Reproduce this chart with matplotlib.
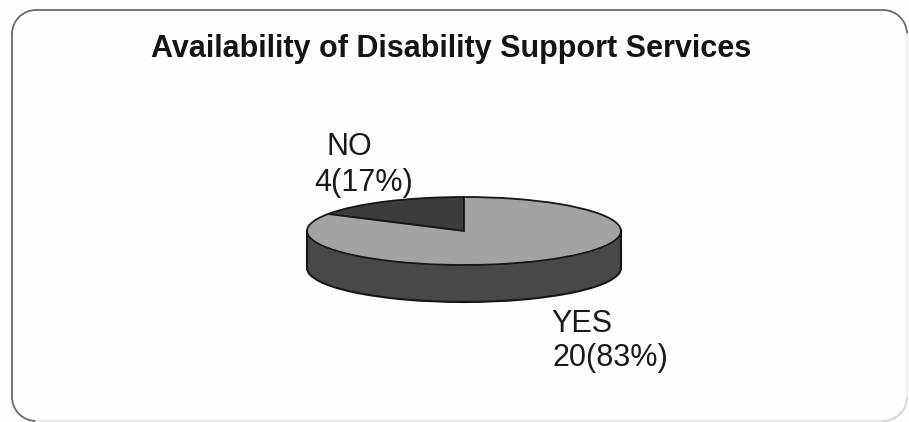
import matplotlib
matplotlib.use("Agg")
import matplotlib.pyplot as plt
from matplotlib.patches import Arc, Rectangle

plt.rcParams['font.family'] = ['Liberation Sans', 'DejaVu Sans']

labels = ["NO", "YES"]
counts = [4, 20]
percents = [17, 83]
title = "Availability of Disability Support Services"

W, H = 909, 422
CX, CY = 464, 231
RX, RY = 157, 34
DEPTH = 37 / RY

TOP_COLORS = ['#3c3c3c', '#a3a3a3']
SIDE_COLOR = '#484848'
EDGE = '#161616'
FRAME = '#6a6a6a'
TEXT = '#1a1a1a'

fig = plt.figure(figsize=(W / 100, H / 100), dpi=100, facecolor='#fefefe')

# frame with rounded corners, in pixel coordinates; it fades along right and bottom
bg = fig.add_axes([0, 0, 1, 1])
bg.set_xlim(0, W)
bg.set_ylim(H, 0)
bg.axis('off')
L, T, R, B, RAD = 12, 10, 907, 421, 24
bg.plot([L + RAD, R - RAD], [T, T], color=FRAME, lw=1.3)
bg.plot([L, L], [T + RAD, B - RAD], color=FRAME, lw=1.3)
bg.plot([L + RAD, R - RAD], [B, B], color='#e4e4e4', lw=1.2)
bg.plot([R, R], [T + RAD, B - RAD], color='#ececec', lw=1.2)
bg.add_patch(Arc((L + RAD, T + RAD), 2 * RAD, 2 * RAD, theta1=180, theta2=270, color=FRAME, lw=1.3))
bg.add_patch(Arc((R - RAD, T + RAD), 2 * RAD, 2 * RAD, theta1=270, theta2=360, color=FRAME, lw=1.3))
bg.add_patch(Arc((L + RAD, B - RAD), 2 * RAD, 2 * RAD, theta1=90, theta2=180, color=FRAME, lw=1.3))
bg.add_patch(Arc((R - RAD, B - RAD), 2 * RAD, 2 * RAD, theta1=0, theta2=90, color='#d0d0d0', lw=1.2))

# unit circle squashed into an ellipse by unequal axis scales
ax = fig.add_axes([0, 0, 1, 1])
ax.patch.set_alpha(0)

# side of the disc: lower pie plus a band joining it to the top face
ax.pie([sum(counts)], radius=1, center=(0, -DEPTH), colors=[SIDE_COLOR],
       wedgeprops=dict(edgecolor=EDGE, linewidth=1.5))
ax.add_patch(Rectangle((-1, -DEPTH), 2, DEPTH, fc=SIDE_COLOR, ec='none'))
ax.plot([-1, -1], [-DEPTH, 0], color=EDGE, lw=1.5)
ax.plot([1, 1], [-DEPTH, 0], color=EDGE, lw=1.5)

# top face
ax.pie(counts, radius=1, startangle=90, colors=TOP_COLORS,
       wedgeprops=dict(edgecolor=EDGE, linewidth=1.3))

ax.set_aspect('auto')
ax.set_xlim(-CX / RX, (W - CX) / RX)
ax.set_ylim(-(H - CY) / RY, CY / RY)
ax.axis('off')

bg.text(451, 49, title, ha='center', va='center', fontsize=22, fontweight='bold', color='#141414')
bg.text(349, 147, labels[0], ha='center', va='center', fontsize=22, color=TEXT)
bg.text(364, 183, f"{counts[0]}({percents[0]}%)", ha='center', va='center', fontsize=22, color=TEXT)
bg.text(582, 324, labels[1], ha='center', va='center', fontsize=22, color=TEXT)
bg.text(610, 358, f"{counts[1]}({percents[1]}%)", ha='center', va='center', fontsize=22, color=TEXT)

fig.savefig("out.png", dpi=100, facecolor=fig.get_facecolor())
